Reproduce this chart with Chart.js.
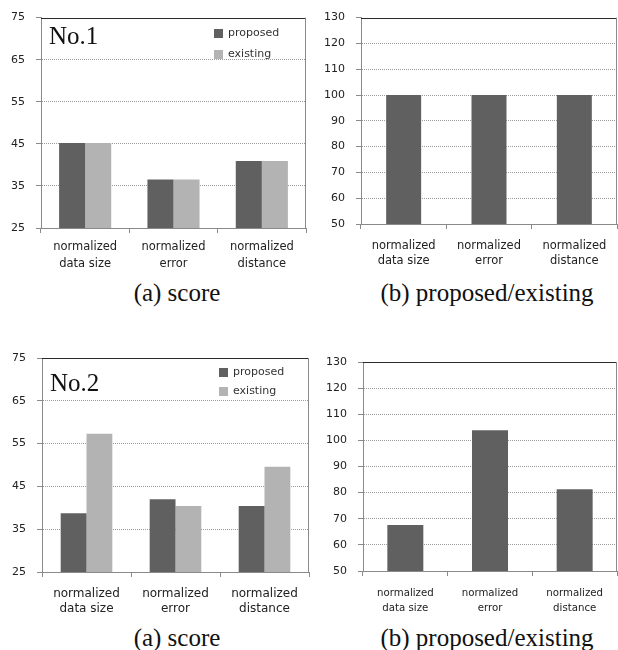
<!DOCTYPE html>
<html>
<head>
<meta charset="utf-8">
<script src="https://cdn.jsdelivr.net/npm/chart.js@4.4.1/dist/chart.umd.min.js"></script>
<style>
  html, body { margin: 0; padding: 0; background: #fff; }
  body { width: 618px; height: 650px; position: relative; overflow: hidden; }
  .panel { position: absolute; }
  .panel canvas { display: block; }
  .caption {
    position: absolute;
    font-family: "Liberation Serif", "DejaVu Serif", serif;
    font-size: 25px;
    line-height: 1;
    color: #111;
    white-space: nowrap;
    transform: translate(-50%, -50%);
  }
</style>
</head>
<body>
<div class="panel" style="left:0;top:0"><canvas id="score1" width="310" height="278"></canvas></div>
<div class="panel" style="left:310px;top:0"><canvas id="ratio1" width="308" height="278"></canvas></div>
<div class="panel" style="left:0;top:330px"><canvas id="score2" width="310" height="292"></canvas></div>
<div class="panel" style="left:310px;top:330px"><canvas id="ratio2" width="308" height="292"></canvas></div>
<div class="caption" style="left:177px;top:292px">(a) score</div>
<div class="caption" style="left:487px;top:292px">(b) proposed/existing</div>
<div class="caption" style="left:177px;top:637px">(a) score</div>
<div class="caption" style="left:487px;top:637px">(b) proposed/existing</div>

<script>
// ---- data ----
const categories = [
  ['normalized', 'data size'],
  ['normalized', 'error'],
  ['normalized', 'distance']
];
const seriesNames = ['proposed', 'existing'];
const ratioName = 'proposed/existing';

// case No.1
const run1Proposed = [45.2, 36.5, 40.9];
const run1Existing = [45.2, 36.5, 40.9];
const run1Ratio = [100, 100, 100];

// case No.2
const run2Proposed = [38.7, 42.0, 40.4];
const run2Existing = [57.3, 40.4, 49.6];
const run2Ratio = [67.6, 103.9, 81.3];

// axis ranges
const scoreRange = { min: 25, max: 75, step: 10 };
const ratioRange = { min: 50, max: 130, step: 10 };

// ---- styling ----
const DARK = '#606060';
const LIGHT = '#b3b3b3';
const AXIS = '#8a8a8a';
const SANS = '"DejaVu Sans", "Liberation Sans", sans-serif';
const SERIF = '"Liberation Serif", "DejaVu Serif", serif';

// frame, case label and in-plot legend
const panelDecor = {
  id: 'panelDecor',
  afterDraw(chart, args, opts) {
    const { ctx, chartArea: a } = chart;
    ctx.save();
    // top frame line
    ctx.strokeStyle = '#2a2a2a';
    ctx.lineWidth = 1;
    ctx.beginPath();
    ctx.moveTo(a.left, Math.round(a.top) + 0.5);
    ctx.lineTo(a.right, Math.round(a.top) + 0.5);
    ctx.stroke();
    // right frame line
    ctx.strokeStyle = AXIS;
    ctx.beginPath();
    ctx.moveTo(Math.round(a.right) - 0.5, a.top);
    ctx.lineTo(Math.round(a.right) - 0.5, a.bottom);
    ctx.stroke();

    if (opts.label) {
      ctx.fillStyle = '#111';
      ctx.font = '25px ' + SERIF;
      ctx.textBaseline = 'alphabetic';
      ctx.textAlign = 'left';
      ctx.fillText(opts.label.text, opts.label.x, opts.label.y);
    }
    if (opts.legend) {
      const L = opts.legend;
      ctx.font = '11px ' + SANS;
      ctx.textBaseline = 'middle';
      ctx.textAlign = 'left';
      chart.data.datasets.forEach((ds, i) => {
        const cy = L.y + i * L.gap;
        ctx.fillStyle = ds.backgroundColor;
        ctx.fillRect(L.x, cy - 4.5, 9, 9);
        ctx.fillStyle = '#333';
        ctx.fillText(ds.label, L.x + 14, cy);
      });
    }
    ctx.restore();
  }
};

function makeChart(id, datasets, range, geo) {
  const el = document.getElementById(id);
  return new Chart(el, {
    type: 'bar',
    data: { labels: categories, datasets },
    plugins: [panelDecor],
    options: {
      responsive: false,
      animation: false,
      devicePixelRatio: 1,
      layout: { padding: { top: geo.top, right: geo.right, bottom: 0, left: 0 } },
      datasets: {
        bar: { barPercentage: 1, categoryPercentage: geo.cat, borderWidth: 0 }
      },
      plugins: {
        legend: { display: false },
        tooltip: { enabled: false },
        panelDecor: { label: geo.label, legend: geo.legend }
      },
      scales: {
        x: {
          afterFit(s) { s.height = geo.xh; },
          grid: {
            offset: true,
            drawOnChartArea: false,
            drawTicks: true,
            tickLength: 5,
            tickColor: AXIS
          },
          border: { display: true, color: AXIS, width: 1 },
          ticks: {
            color: '#222',
            padding: geo.xpad,
            maxRotation: 0,
            autoSkip: false,
            font: { family: SANS, size: geo.xfont, lineHeight: geo.xline }
          }
        },
        y: {
          min: range.min,
          max: range.max,
          afterFit(s) { s.width = geo.yw; },
          afterBuildTicks(s) {
            const t = [];
            for (let v = range.min; v <= range.max; v += range.step) t.push({ value: v });
            s.ticks = t;
          },
          grid: {
            color: c => (c.tick && (c.tick.value === range.min || c.tick.value === range.max))
              ? 'rgba(0,0,0,0)' : '#9c9c9c',
            lineWidth: 1,
            drawTicks: true,
            tickLength: 5,
            tickColor: AXIS,
            tickBorderDash: []
          },
          border: { display: true, color: AXIS, width: 1, dash: [1, 1] },
          ticks: {
            color: '#222',
            padding: 11,
            font: { family: SANS, size: 11 }
          }
        }
      }
    }
  });
}

function scoreSets(p, e) {
  return [
    { label: seriesNames[0], data: p, backgroundColor: DARK },
    { label: seriesNames[1], data: e, backgroundColor: LIGHT }
  ];
}
function ratioSet(r) {
  return [{ label: ratioName, data: r, backgroundColor: DARK }];
}

makeChart('score1', scoreSets(run1Proposed, run1Existing), scoreRange, {
  top: 16, right: 4, yw: 41, xh: 50, cat: 0.59,
  xfont: 11.5, xline: '17px', xpad: 6,
  label: { text: 'No.1', x: 49, y: 43.5 },
  legend: { x: 214, y: 33.5, gap: 21 }
});
makeChart('ratio1', ratioSet(run1Ratio), ratioRange, {
  top: 16, right: 1, yw: 51, xh: 54, cat: 0.41,
  xfont: 11.5, xline: '15px', xpad: 10
});
makeChart('score2', scoreSets(run2Proposed, run2Existing), scoreRange, {
  top: 28, right: 1, yw: 42, xh: 50, cat: 0.58,
  xfont: 12, xline: '15px', xpad: 9,
  label: { text: 'No.2', x: 50, y: 61 },
  legend: { x: 219, y: 42.5, gap: 19 }
});
makeChart('ratio2', ratioSet(run2Ratio), ratioRange, {
  top: 32, right: 1, yw: 53, xh: 51, cat: 0.425,
  xfont: 10.2, xline: '15px', xpad: 9.5
});
</script>
</body>
</html>
